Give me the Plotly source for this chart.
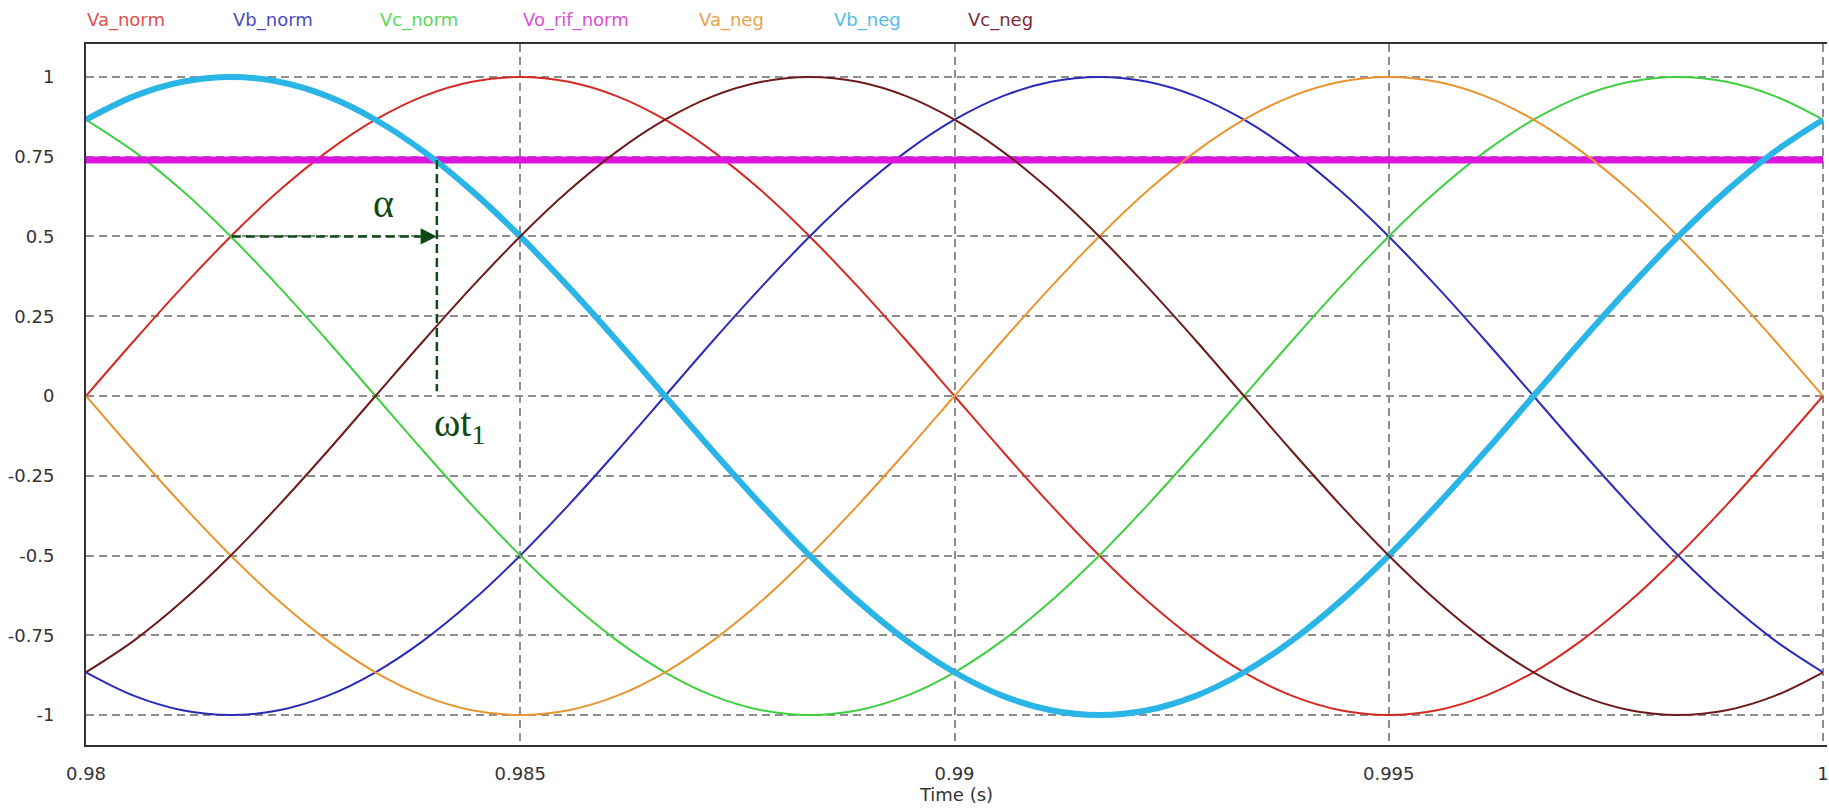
import plotly.graph_objects as go

# ---- data (time in s, normalised voltages) ----
time_s = [0.98, 0.980556, 0.981111, 0.981667, 0.982222, 0.982778, 0.983333, 0.983889,
          0.984444, 0.985, 0.985556, 0.986111, 0.986667, 0.987222, 0.987778, 0.988333,
          0.988889, 0.989444, 0.99, 0.990556, 0.991111, 0.991667, 0.992222, 0.992778,
          0.993333, 0.993889, 0.994444, 0.995, 0.995556, 0.996111, 0.996667, 0.997222,
          0.997778, 0.998333, 0.998889, 0.999444, 1.0]

va_norm = [0, .174, .342, .5, .643, .766, .866, .940, .985, 1, .985, .940, .866, .766,
           .643, .5, .342, .174, 0, -.174, -.342, -.5, -.643, -.766, -.866, -.940, -.985,
           -1, -.985, -.940, -.866, -.766, -.643, -.5, -.342, -.174, 0]

vb_norm = [-.866, -.940, -.985, -1, -.985, -.940, -.866, -.766, -.643, -.5, -.342, -.174,
           0, .174, .342, .5, .643, .766, .866, .940, .985, 1, .985, .940, .866, .766,
           .643, .5, .342, .174, 0, -.174, -.342, -.5, -.643, -.766, -.866]

vc_norm = [.866, .766, .643, .5, .342, .174, 0, -.174, -.342, -.5, -.643, -.766, -.866,
           -.940, -.985, -1, -.985, -.940, -.866, -.766, -.643, -.5, -.342, -.174, 0,
           .174, .342, .5, .643, .766, .866, .940, .985, 1, .985, .940, .866]

va_neg = [0, -.174, -.342, -.5, -.643, -.766, -.866, -.940, -.985, -1, -.985, -.940,
          -.866, -.766, -.643, -.5, -.342, -.174, 0, .174, .342, .5, .643, .766, .866,
          .940, .985, 1, .985, .940, .866, .766, .643, .5, .342, .174, 0]

vb_neg = [.866, .940, .985, 1, .985, .940, .866, .766, .643, .5, .342, .174, 0, -.174,
          -.342, -.5, -.643, -.766, -.866, -.940, -.985, -1, -.985, -.940, -.866, -.766,
          -.643, -.5, -.342, -.174, 0, .174, .342, .5, .643, .766, .866]

vc_neg = [-.866, -.766, -.643, -.5, -.342, -.174, 0, .174, .342, .5, .643, .766, .866,
          .940, .985, 1, .985, .940, .866, .766, .643, .5, .342, .174, 0, -.174, -.342,
          -.5, -.643, -.766, -.866, -.940, -.985, -1, -.985, -.940, -.866]

vo_time = [0.98, 1.0]
vo_rif_norm = [0.74, 0.74]

x_tickvals = [0.98, 0.985, 0.99, 0.995, 1.0]
x_ticktext = ["0.98", "0.985", "0.99", "0.995", "1"]
y_tickvals = [1, 0.75, 0.5, 0.25, 0, -0.25, -0.5, -0.75, -1]
y_ticktext = ["1", "0.75", "0.5", "0.25", "0", "-0.25", "-0.5", "-0.75", "-1"]

series_names = ["Va_norm", "Vb_norm", "Vc_norm", "Vo_rif_norm", "Va_neg", "Vb_neg", "Vc_neg"]
line_colors = ["#d42a22", "#2a2ab8", "#3fcf3f", "#dd14dd", "#e9952f", "#2bb5e6", "#6e1a1c"]
label_colors = ["#e0504a", "#4a4ac4", "#5cd65c", "#d94fd9", "#eba050", "#52bce4", "#7a2a3a"]
line_widths = [2, 2, 2, 7, 2, 6, 2]
legend_x_px = [85, 231, 378, 522, 698, 833, 967]

# annotation geometry (alpha construction)
alpha_start_t, alpha_end_t = 0.98168, 0.98404
alpha_y = 0.5
wt1_top, wt1_bottom = 0.74, 0.015
ann_green = "#0f4a16"

FONT = "DejaVu Sans"
W, H = 1829, 808
ML, MR, MT, MB = 86, 0, 44, 63
X_END = 1.000046   # plot area runs just past t = 1 s (right frame off-screen)

fig = go.Figure()
ys = [va_norm, vb_norm, vc_norm, vo_rif_norm, va_neg, vb_neg, vc_neg]
for name, y, c, w in zip(series_names, ys, line_colors, line_widths):
    xs = vo_time if name == "Vo_rif_norm" else time_s
    fig.add_trace(go.Scatter(x=xs, y=y, mode="lines", name=name,
                             line=dict(color=c, width=w, shape="spline", smoothing=1.0),
                             showlegend=False, hoverinfo="skip"))

# dashed construction lines
fig.add_shape(type="line", xref="x", yref="y", x0=alpha_start_t, y0=alpha_y,
              x1=alpha_end_t - 0.00012, y1=alpha_y,
              line=dict(color=ann_green, width=2.5, dash="9px,5px"))
fig.add_shape(type="line", xref="x", yref="y", x0=alpha_end_t, y0=wt1_top,
              x1=alpha_end_t, y1=wt1_bottom,
              line=dict(color=ann_green, width=2.5, dash="9px,5px"))
fig.add_annotation(x=alpha_end_t, y=alpha_y, xref="x", yref="y", ax=-14, ay=0,
                   text="", showarrow=True, arrowhead=2, arrowsize=1.3, arrowwidth=2.5,
                   arrowcolor=ann_green, standoff=0)
fig.add_annotation(x=0.98343, y=0.605, xref="x", yref="y", text="α", showarrow=False,
                   font=dict(family="Liberation Serif", size=40, color=ann_green))
fig.add_annotation(x=0.98398, y=-0.09, xref="x", yref="y", text="ωt<sub>1</sub>",
                   showarrow=False, xanchor="left",
                   font=dict(family="Liberation Serif", size=40, color=ann_green))

# legend labels across the top
plot_w = W - ML - MR
for name, c, px in zip(series_names, label_colors, legend_x_px):
    fig.add_annotation(x=(px - ML) / plot_w, y=1, xref="paper", yref="paper",
                       xanchor="left", yanchor="middle", yshift=24, text=name,
                       showarrow=False, font=dict(family=FONT, size=18, color=c))

grid_common = dict(showgrid=True, gridcolor="#8e8e8e", griddash="8px,5px", gridwidth=1.5,
                   showline=True, linecolor="#333333", linewidth=2,
                   zeroline=False, ticks="", ticklabeloverflow="allow",
                   tickfont=dict(family=FONT, size=18, color="#333333"))

fig.update_layout(
    width=W, height=H, autosize=False,
    margin=dict(l=ML, r=MR, t=MT, b=MB, pad=0),
    plot_bgcolor="white", paper_bgcolor="white",
    xaxis=dict(range=[0.98, X_END], tickvals=x_tickvals, ticktext=x_ticktext,
               ticklabelstandoff=11, mirror=True,
               title=dict(text="Time (s)", font=dict(family=FONT, size=18, color="#333333"),
                          standoff=4),
               **grid_common),
    yaxis=dict(range=[-1.094, 1.1034], tickvals=y_tickvals, ticktext=y_ticktext,
               ticklabelstandoff=26, mirror=False, **grid_common),
)

fig.write_html("out.html", config={"displayModeBar": False},
               post_script="document.body.style.margin='0';document.body.style.overflow='hidden';")
